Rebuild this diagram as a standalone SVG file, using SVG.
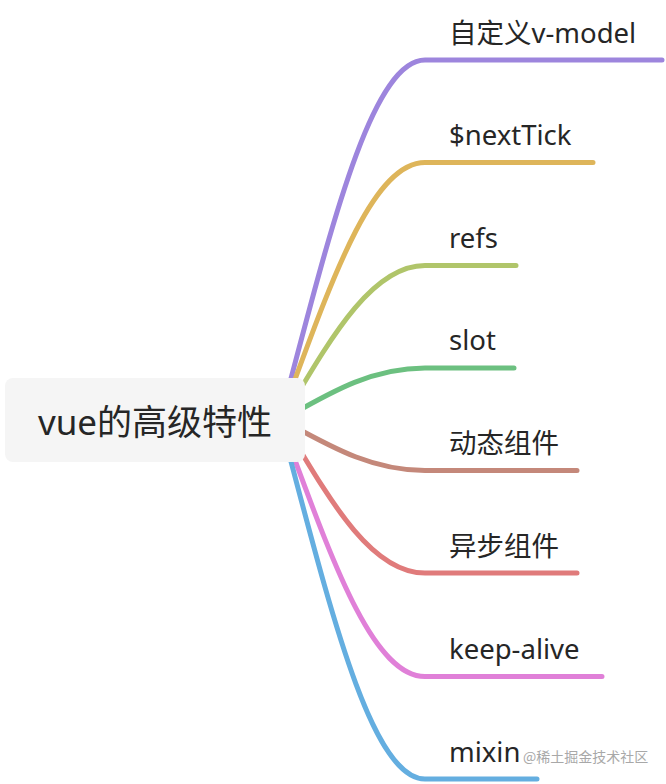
<svg xmlns="http://www.w3.org/2000/svg" width="666" height="784" viewBox="0 0 666 784">
<style>
.c{fill:none;stroke-width:5;stroke-linecap:round;stroke-linejoin:round}
.t{font-family:"Segoe UI","Noto Sans","Noto Sans CJK SC",sans-serif;font-size:27.5px;fill:#262626}
.r{font-family:"Segoe UI","Noto Sans","Noto Sans CJK SC",sans-serif;font-size:35px;fill:#262626}
.w{font-family:"Noto Sans CJK SC",sans-serif;font-size:14px;fill:#a8a8a8}
</style>
<rect width="666" height="784" fill="#ffffff"/>
<g id="connectors">
<path class="c" stroke="#9d85dd" d="M280 420 C328 240 370 60 425 60 L662 60"/>
<path class="c" stroke="#deb55a" d="M280 420 C328 291 370 162.5 425 162.5 L593 162.5"/>
<path class="c" stroke="#b0c56a" d="M282 420 C328 343 370 265.5 425 265.5 L516 265.5"/>
<path class="c" stroke="#6cc080" d="M282 420 C328 394 370 368 425 368 L514 368"/>
<path class="c" stroke="#c4887a" d="M282 420 C328 445 370 470.5 425 470.5 L577 470.5"/>
<path class="c" stroke="#e07b7b" d="M282 420 C328 497 370 573 425 573 L577 573"/>
<path class="c" stroke="#e080d8" d="M280 420 C328 548 370 676.5 425 676.5 L602 676.5"/>
<path class="c" stroke="#64aee0" d="M280 420 C328 600 370 779 425 779 L537 779"/>
</g>
<g id="root">
<rect x="5" y="378" width="300" height="84" rx="8" fill="#f5f5f5"/>
<text class="r" x="155" y="435" text-anchor="middle">vue的高级特性</text>
</g>
<g id="n1"><text class="t" x="449" y="43">自定义v-model</text></g>
<g id="n2"><text class="t" x="449" y="145">$nextTick</text></g>
<g id="n3"><text class="t" x="449" y="248">refs</text></g>
<g id="n4"><text class="t" x="449" y="350">slot</text></g>
<g id="n5"><text class="t" x="449" y="453">动态组件</text></g>
<g id="n6"><text class="t" x="449" y="556">异步组件</text></g>
<g id="n7"><text class="t" x="449" y="659">keep-alive</text></g>
<g id="n8"><text class="t" x="449" y="762">mixin</text></g>
<text class="w" x="523" y="762">@稀土掘金技术社区</text>
</svg>
